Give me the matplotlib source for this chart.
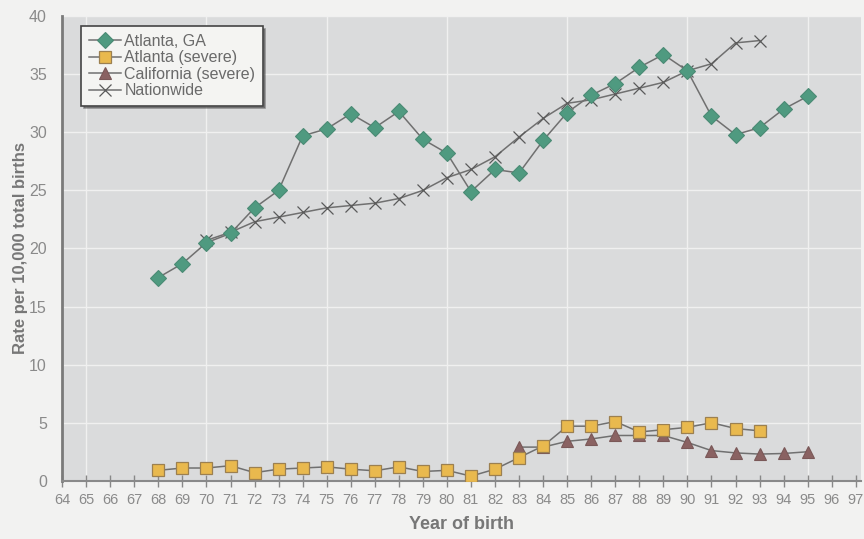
import matplotlib
matplotlib.use("Agg")
import matplotlib.pyplot as plt

plt.rcParams['font.family'] = ['Liberation Sans Narrow', 'Liberation Sans', 'DejaVu Sans']

# data (rate per 10,000 total births)
years_atl = list(range(68, 96))
atlanta = [17.5, 18.7, 20.5, 21.3, 23.5, 25.0, 29.7, 30.3, 31.6, 30.4, 31.8,
           29.4, 28.2, 24.9, 26.8, 26.5, 29.3, 31.7, 33.2, 34.2, 35.6, 36.7,
           35.3, 31.4, 29.8, 30.4, 32.0, 33.1]

years_sev = list(range(68, 94))
atlanta_severe = [0.9, 1.1, 1.1, 1.3, 0.7, 1.0, 1.1, 1.2, 1.0, 0.86, 1.2,
                  0.8, 0.9, 0.4, 1.0, 2.0, 3.0, 4.7, 4.7, 5.1, 4.2, 4.4,
                  4.6, 5.0, 4.5, 4.3]

years_cal = list(range(83, 96))
california_severe = [2.9, 2.9, 3.4, 3.6, 3.9, 3.9, 3.9, 3.3, 2.6, 2.4, 2.3,
                     2.35, 2.5]

years_nat = list(range(70, 94))
nationwide = [20.7, 21.4, 22.3, 22.7, 23.1, 23.5, 23.7, 23.9, 24.3, 25.0,
              26.1, 26.8, 27.9, 29.6, 31.2, 32.5, 32.8, 33.3, 33.8, 34.3,
              35.3, 35.9, 37.7, 37.9]

xticks = list(range(64, 98))
yticks = list(range(0, 41, 5))

fig = plt.figure(figsize=(8.64, 5.39), dpi=100, facecolor='#f2f2f1')
ax = fig.add_axes([0.072, 0.108, 0.924, 0.862])
ax.set_facecolor('#dadbdc')

line_col = '#707070'
ax.plot(years_atl, atlanta, color=line_col, lw=1.1, marker='D', ms=8,
        mfc='#4f9a80', mec='#4a8a74', mew=0.8, label='Atlanta, GA', zorder=4)
ax.plot(years_sev, atlanta_severe, color=line_col, lw=1.1, marker='s', ms=8.5,
        mfc='#e9b94e', mec='#9c8050', mew=0.9, label='Atlanta (severe)', zorder=4)
ax.plot(years_cal, california_severe, color=line_col, lw=1.1, marker='^', ms=8.5,
        mfc='#8a6262', mec='#7a5858', mew=0.8, label='California (severe)', zorder=3)
ax.plot(years_nat, nationwide, color=line_col, lw=1.1, marker='x', ms=8,
        mec='#5a5a5a', mew=0.9, label='Nationwide', zorder=3)

ax.set_xlim(64, 97.2)
ax.set_ylim(0, 40)
ax.set_xticks(xticks)
ax.set_xticklabels([str(v) for v in xticks])
ax.set_yticks(yticks)

for v in range(65, 97, 5):
    ax.axvline(v, color='#f0f0f0', lw=1.0, zorder=1)
for v in yticks[1:]:
    ax.axhline(v, color='#f0f0f0', lw=1.0, zorder=1)

for s in ['top', 'right']:
    ax.spines[s].set_visible(False)
ax.spines['left'].set_color('#7a7a7a')
ax.spines['left'].set_linewidth(2)
ax.spines['bottom'].set_color('#8a8a8a')
ax.spines['bottom'].set_linewidth(1.5)

ax.tick_params(axis='x', direction='inout', length=8, width=1, color='#888888',
               labelcolor='#8a8a8a', labelsize=10.5, pad=5)
ax.tick_params(axis='y', length=0, labelcolor='#8a8a8a', labelsize=11.5, pad=11)

ax.set_xlabel('Year of birth', fontsize=13, fontweight='bold', color='#777777',
              labelpad=6)
ax.set_ylabel('Rate per 10,000 total births', fontsize=12, fontweight='bold',
              color='#777777', labelpad=1)

leg = ax.legend(loc='upper left', bbox_to_anchor=(0.024, 0.978), frameon=True,
                shadow=True, fancybox=False, fontsize=11.5, handlelength=2.0,
                borderpad=0.45, labelspacing=0.1, handletextpad=0.25,
                borderaxespad=0.0)
leg.get_frame().set_facecolor('#f4f4f2')
leg.get_frame().set_edgecolor('#444444')
leg.get_frame().set_linewidth(1.2)
for t in leg.get_texts():
    t.set_color('#6a6a6a')

fig.savefig('out.png', dpi=100, facecolor=fig.get_facecolor())
